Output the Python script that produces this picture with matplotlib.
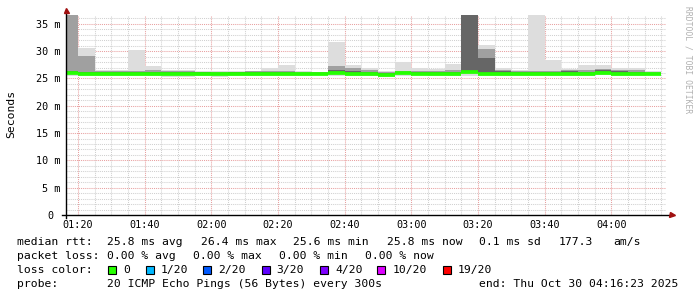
import matplotlib
matplotlib.use('Agg')
import matplotlib.pyplot as plt
from matplotlib.patches import Rectangle
import numpy as np

# smokeping data, 5 minute steps, first bin starts 01:15 (minutes after midnight)
first_bin = 75
step = 5
t_start = 76 + 23 / 60.0   # 01:16:23
t_end = 256 + 23 / 60.0    # 04:16:23

# all values in ms
ping_max = [40.0, 30.6, 26.6, 26.5, 30.2, 27.2, 26.6, 26.5, 26.4, 26.3, 26.4, 26.4,
            26.9, 27.4, 26.4, 26.2, 31.7, 27.4, 27.0, 26.4, 28.1, 27.0, 26.8, 27.6,
            40.0, 31.1, 27.0, 26.6, 40.0, 28.3, 26.8, 27.5, 27.4, 27.0, 26.9, 26.4]
ping_hi2 = [40.0, 29.2, 26.3, 26.3, 26.3, 26.5, 26.3, 26.3, 26.2, 26.1, 26.2, 26.3,
            26.4, 26.4, 26.2, 26.1, 27.3, 26.9, 26.5, 26.2, 26.4, 26.4, 26.4, 26.6,
            40.0, 30.4, 26.6, 26.3, 26.4, 26.4, 26.5, 26.5, 26.8, 26.6, 26.5, 26.2]
ping_hi3 = [26.4, 26.2, 26.1, 26.2, 26.1, 26.2, 26.1, 26.1, 26.1, 26.0, 26.1, 26.2,
            26.2, 26.2, 26.0, 26.0, 26.5, 26.3, 26.2, 26.0, 26.1, 26.2, 26.2, 26.2,
            40.0, 28.8, 26.3, 26.1, 26.1, 26.1, 26.3, 26.2, 26.5, 26.3, 26.2, 26.0]
ping_min = [25.5, 25.5, 25.5, 25.4, 25.5, 25.5, 25.3, 25.2, 25.5, 25.3, 25.5, 25.5,
            25.5, 25.5, 25.4, 25.6, 25.5, 25.5, 25.5, 25.3, 25.5, 25.6, 25.5, 25.5,
            25.5, 25.5, 25.5, 25.5, 25.4, 25.5, 25.5, 25.4, 25.6, 25.5, 25.5, 25.6]
median = [26.0, 25.9, 25.9, 25.9, 25.9, 25.9, 25.8, 25.8, 25.8, 25.8, 25.9, 25.9,
          25.9, 25.9, 25.9, 25.9, 26.0, 25.9, 25.9, 25.7, 26.0, 25.9, 25.9, 25.9,
          26.2, 25.8, 25.9, 25.8, 25.9, 25.8, 25.9, 25.8, 26.0, 25.9, 25.9, 25.8]

xtick_labels = ['01:20', '01:40', '02:00', '02:20', '02:40', '03:00', '03:20', '03:40', '04:00']
ytick_vals = [0, 5, 10, 15, 20, 25, 30, 35]

rtt_label = 'median rtt:'
rtt_items = ['25.8 ms avg', '26.4 ms max', '25.6 ms min', '25.8 ms now', '0.1 ms sd', '177.3', 'am/s']
loss_label = 'packet loss:'
loss_items = ['0.00 % avg', '0.00 % max', '0.00 % min', '0.00 % now']
color_label = 'loss color:'
loss_names = ['0', '1/20', '2/20', '3/20', '4/20', '10/20', '19/20']
loss_colors = ['#26ff00', '#00b8ff', '#0059ff', '#5e00ff', '#7e00ff', '#dd00ff', '#ff0000']
probe_label = 'probe:'
probe_text = '20 ICMP Echo Pings (56 Bytes) every 300s'
end_text = 'end: Thu Oct 30 04:16:23 2025'

W, H = 697, 297
fig = plt.figure(figsize=(W / 100, H / 100), dpi=100)
ax = fig.add_axes([66 / W, (H - 215) / H, 600 / W, 200 / H])
mono = 'DejaVu Sans Mono'

n = len(median)
x = first_bin + step * np.arange(n)
ymax = 36.63

# grid behind the smoke
for m in np.arange(first_bin, t_end, step):
    major = (m % 20 == 0)
    ax.axvline(m, color='#e8a0a0' if major else '#d0d0d0', lw=0.75,
               ls=(0, (1, 1)), zorder=0)
for v in range(1, 37):
    major = (v % 5 == 0)
    ax.axhline(v, color='#e8a0a0' if major else '#d0d0d0', lw=0.75,
               ls=(0, (1, 1)), zorder=0)

lo = np.array(ping_min)
med = np.array(median)
ax.bar(x, np.array(ping_max) - lo, bottom=lo, width=step, align='edge',
       color='#dddddd', lw=0, zorder=2)
ax.bar(x, np.array(ping_hi2) - med, bottom=med, width=step, align='edge',
       color='#a0a0a0', lw=0, zorder=3)
ax.bar(x, np.array(ping_hi3) - med, bottom=med, width=step, align='edge',
       color='#666666', lw=0, zorder=4)
ax.hlines(med, x, x + step, color=loss_colors[0], lw=2.7, zorder=5)

ax.set_xlim(t_start, t_end)
ax.set_ylim(0, ymax)
for s in ax.spines.values():
    s.set_visible(False)

ax.set_xticks(np.arange(80, 241, 20))
ax.set_xticklabels(xtick_labels)
ax.set_yticks(ytick_vals)
ax.set_yticklabels([('%d m' % v) if v else '0 ' for v in ytick_vals])
ax.tick_params(length=0, labelsize=7.3, colors='#000000')
ax.tick_params(axis='x', pad=3.5)
ax.tick_params(axis='y', pad=4)
for lab in ax.get_xticklabels() + ax.get_yticklabels():
    lab.set_fontfamily(mono)

ax.set_ylabel('Seconds', fontsize=8.2, family=mono)
ax.yaxis.set_label_coords(-50 / 600, 0.505)

# axis lines with arrows
ax.plot([-4 / 600, 605 / 600], [0, 0], transform=ax.transAxes, color='black',
        lw=1.0, clip_on=False, zorder=6)
ax.plot([0, 0], [-3 / 200, 1.015], transform=ax.transAxes, color='black',
        lw=1.0, clip_on=False, zorder=6)
ax.plot([606 / 600], [0], transform=ax.transAxes, marker='>', ms=3.6,
        color='#a01010', clip_on=False, zorder=7)
ax.plot([0], [1.024], transform=ax.transAxes, marker='^', ms=3.6,
        color='#a01010', clip_on=False, zorder=7)

fig.text(688 / W, 1 - 60 / H, 'RRDTOOL / TOBI OETIKER', rotation=270,
         fontsize=5.8, family=mono, color='#b0b0b0', ha='center', va='center')

# legend block
fs = 8.2
def px(xp, yp):
    return xp / W, 1 - yp / H

base = [245.3, 259.3, 273.3, 287.3]

fig.text(*px(16.7, base[0]), rtt_label, fontsize=fs, family=mono, va='baseline')
for xp, t in zip([107.3, 201, 293.3, 386.7, 478.7, 558.7, 613.7], rtt_items):
    fig.text(*px(xp, base[0]), t, fontsize=fs, family=mono, va='baseline')

fig.text(*px(16.7, base[1]), loss_label, fontsize=fs, family=mono, va='baseline')
for xp, t in zip([107.3, 193.3, 279.3, 365], loss_items):
    fig.text(*px(xp, base[1]), t, fontsize=fs, family=mono, va='baseline')

fig.text(*px(16.7, base[2]), color_label, fontsize=fs, family=mono, va='baseline')
for xp, t, c in zip([108.3, 145.7, 202.7, 261.7, 320, 377.3, 442.7], loss_names, loss_colors):
    fig.add_artist(Rectangle(px(xp, 274), 8 / W, 8 / H, transform=fig.transFigure,
                             facecolor=c, edgecolor='black', lw=0.8))
    fig.text(*px(xp + 15, base[2]), t, fontsize=fs, family=mono, va='baseline')

fig.text(*px(16.7, base[3]), probe_label, fontsize=fs, family=mono, va='baseline')
fig.text(*px(107.3, base[3]), probe_text, fontsize=fs, family=mono, va='baseline')
fig.text(*px(478.7, base[3]), end_text, fontsize=fs, family=mono, va='baseline')

fig.savefig('out.png', dpi=100)
